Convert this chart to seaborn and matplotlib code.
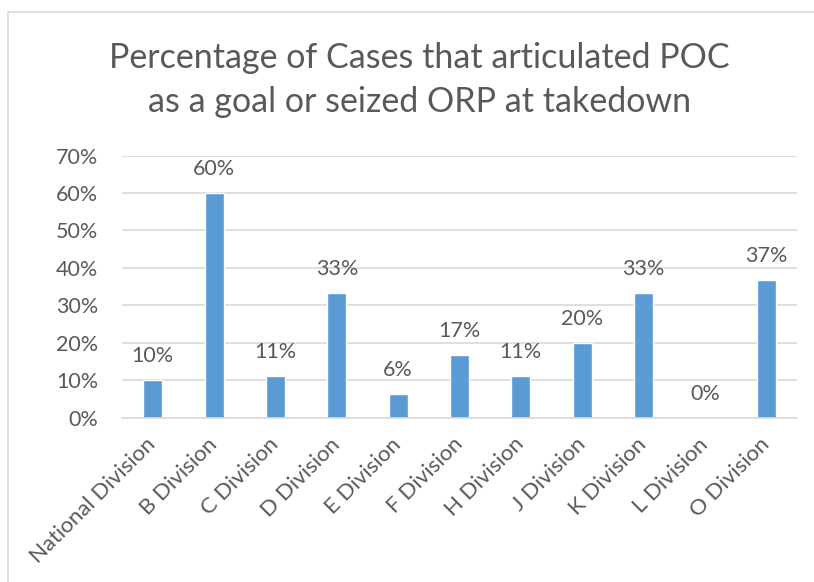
import matplotlib
matplotlib.use("Agg")
import matplotlib.pyplot as plt
import seaborn as sns
import pandas as pd
from matplotlib.patches import Rectangle
from matplotlib.ticker import FuncFormatter

categories = ["National Division", "B Division", "C Division", "D Division",
              "E Division", "F Division", "H Division", "J Division",
              "K Division", "L Division", "O Division"]
values = [10.0, 60.0, 11.1, 33.3, 6.2, 16.7, 11.1, 20.0, 33.3, 0.0, 36.7]
yticks = [0, 10, 20, 30, 40, 50, 60, 70]
title = "Percentage of Cases that articulated POC\nas a goal or seized ORP at takedown"

sns.set_theme(style="white")
plt.rcParams['font.family'] = ['Lato', 'DejaVu Sans']

TEXT = "#595959"
BAR = "#5B9BD5"
GRID = "#D9D9D9"

df = pd.DataFrame({"Division": categories, "Pct": values})

fig = plt.figure(figsize=(8.14, 5.82), dpi=100)
ax = fig.add_axes([0.150, 0.2826, 0.829, 0.4500])

sns.barplot(data=df, x="Division", y="Pct", color=BAR, width=0.31,
            saturation=1, ax=ax)

ax.set_ylim(0, 70)
ax.set_yticks(yticks)
ax.yaxis.set_major_formatter(FuncFormatter(lambda v, p: f"{v:.0f}%"))
ax.set_xlim(-0.5, len(categories) - 0.5)
ax.grid(axis="y", color=GRID, linewidth=1.2)
ax.set_axisbelow(True)
for s in ["top", "right", "left"]:
    ax.spines[s].set_visible(False)
ax.spines["bottom"].set_color(GRID)
ax.spines["bottom"].set_linewidth(1.2)
ax.set_xlabel("")
ax.set_ylabel("")
ax.tick_params(axis="y", length=0, pad=17, labelsize=15.5, labelcolor=TEXT)
ax.tick_params(axis="x", length=0, pad=17, labelsize=16, labelcolor=TEXT)
plt.setp(ax.get_xticklabels(), rotation=45, ha="right", va="center",
         rotation_mode="anchor")

ax.bar_label(ax.containers[0], labels=[f"{v:.0f}%" for v in values],
             padding=10, fontsize=15.5, color=TEXT)

fig.text(0.515, 0.862, title, ha="center", va="center", fontsize=24.5,
         color=TEXT, linespacing=1.45)

fig.patches.append(Rectangle((8 / 814, -0.1), 1.2, 1 - 12 / 582 + 0.1,
                             transform=fig.transFigure, fill=False,
                             edgecolor="#D9D9D9", linewidth=1.2))

fig.savefig("out.png", dpi=100, facecolor="white")
